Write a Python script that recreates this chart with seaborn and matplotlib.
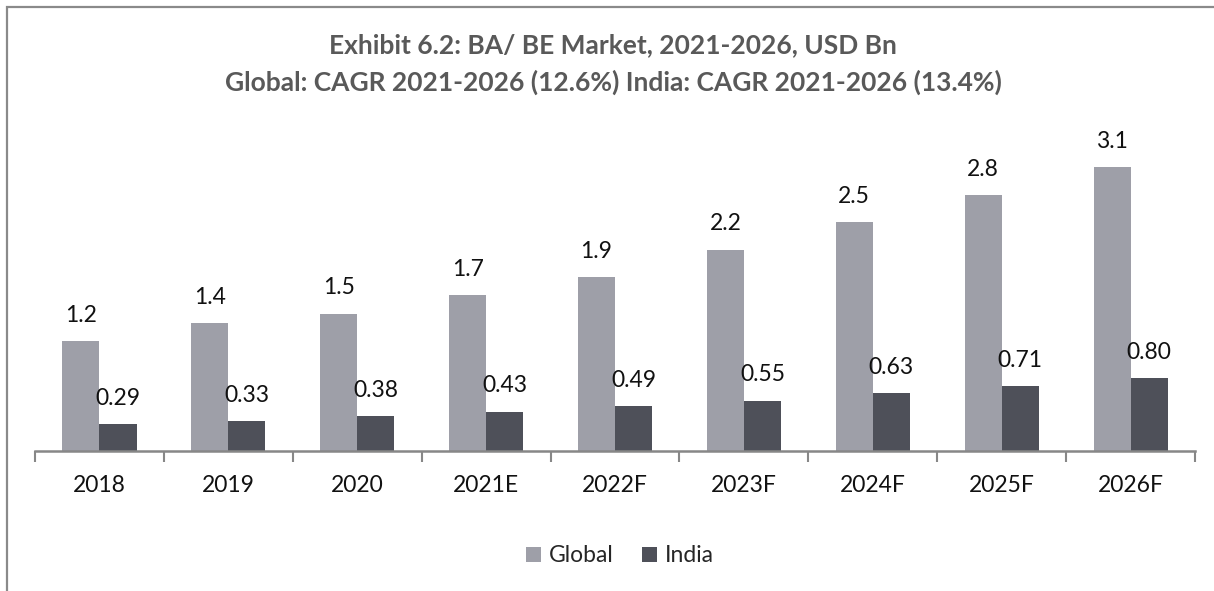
import matplotlib
matplotlib.use("Agg")
import matplotlib.pyplot as plt
import seaborn as sns
import pandas as pd
from matplotlib.patches import Rectangle

years = ["2018", "2019", "2020", "2021E", "2022F", "2023F", "2024F", "2025F", "2026F"]
global_vals = [1.2, 1.4, 1.5, 1.7, 1.9, 2.2, 2.5, 2.8, 3.1]
india_vals = [0.29, 0.33, 0.38, 0.43, 0.49, 0.55, 0.63, 0.71, 0.80]
series = ["Global", "India"]
title_lines = ["Exhibit 6.2: BA/ BE Market, 2021-2026, USD Bn",
               "Global: CAGR 2021-2026 (12.6%) India: CAGR 2021-2026 (13.4%)"]

colors = {"Global": "#9e9fa8", "India": "#4e5059"}

df = pd.DataFrame({
    "Year": years * 2,
    "Region": ["Global"] * len(years) + ["India"] * len(years),
    "Value": global_vals + india_vals,
})

sns.set_theme(style="white")
plt.rcParams["font.family"] = ["Lato", "DejaVu Sans"]

W, H = 1214, 591
fig = plt.figure(figsize=(W / 100, H / 100), dpi=100)
ax = fig.add_axes([35 / W, (H - 451) / H, (1195 - 35) / W, (451 - 130.75) / H])

sns.barplot(data=df, x="Year", y="Value", hue="Region", hue_order=series,
            palette=colors, width=0.575, saturation=1, ax=ax, legend=True,
            edgecolor="none")

ax.set_ylim(0, 3.5)
ax.set_xlim(-0.5, len(years) - 0.5)

# value labels
fmts = {"Global": "{:.1f}", "India": "{:.2f}"}
for cont, name in zip(ax.containers, series):
    vals = global_vals if name == "Global" else india_vals
    ax.bar_label(cont, labels=[fmts[name].format(v) for v in vals],
                 padding=11, fontsize=16.5, color="#111111")

# axes styling
for s in ["top", "right", "left"]:
    ax.spines[s].set_visible(False)
ax.spines["bottom"].set_color("#878787")
ax.spines["bottom"].set_linewidth(1.8)
ax.set_yticks([])
ax.set_ylabel("")
ax.set_xlabel("")
ax.set_xticks([i - 0.5 for i in range(len(years) + 1)])
ax.set_xticklabels([])
ax.set_xticks(range(len(years)), minor=True)
ax.set_xticklabels(years, minor=True, fontsize=16.5, color="#111111")
ax.tick_params(axis="x", which="major", direction="out", length=8, width=1.5,
               color="#878787", bottom=True)
ax.tick_params(axis="x", which="minor", length=0, pad=17, bottom=True)

# legend
handles, labels = ax.get_legend_handles_labels()
ax.legend(handles, labels, loc="center", bbox_to_anchor=(620 / W, (H - 556) / H),
          bbox_transform=fig.transFigure, ncol=2, frameon=False, fontsize=16.5,
          handlelength=0.65, handleheight=0.65, handletextpad=0.35,
          columnspacing=1.2)

# title
fig.text(613 / W, (H - 45) / H, title_lines[0], ha="center", va="center",
         fontsize=19, fontweight="bold", color="#595959")
fig.text(613 / W, (H - 82) / H, title_lines[1], ha="center", va="center",
         fontsize=19, fontweight="bold", color="#595959")

# chart frame
fig.patches.append(Rectangle((7 / W, -0.1), 1.2, (H - 7) / H + 0.1,
                             transform=fig.transFigure, fill=False,
                             edgecolor="#8a8a8a", linewidth=1.6))

fig.savefig("out.png", dpi=100)
